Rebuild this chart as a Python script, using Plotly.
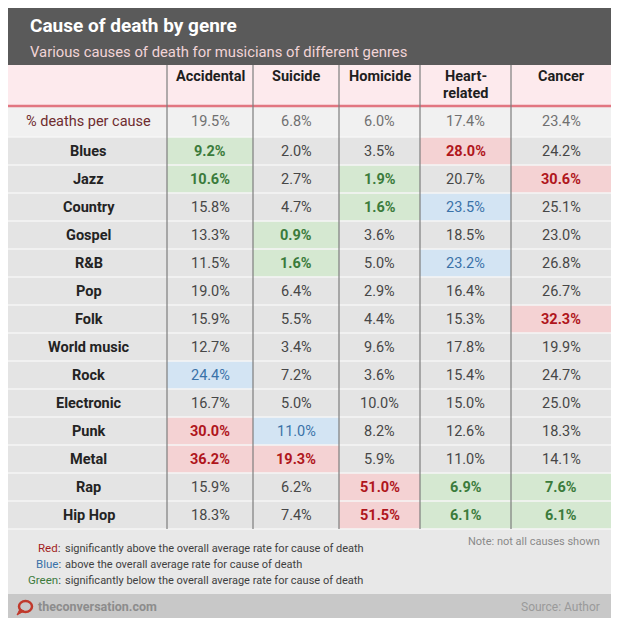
import plotly.graph_objects as go

# ---------------- data ----------------
causes = ["Accidental", "Suicide", "Homicide", "Heart-<br>related", "Cancer"]
overall = [19.5, 6.8, 6.0, 17.4, 23.4]
genres = ["Blues", "Jazz", "Country", "Gospel", "R&B", "Pop", "Folk", "World music",
          "Rock", "Electronic", "Punk", "Metal", "Rap", "Hip Hop"]
accidental = [9.2, 10.6, 15.8, 13.3, 11.5, 19.0, 15.9, 12.7, 24.4, 16.7, 30.0, 36.2, 15.9, 18.3]
suicide = [2.0, 2.7, 4.7, 0.9, 1.6, 6.4, 5.5, 3.4, 7.2, 5.0, 11.0, 19.3, 6.2, 7.4]
homicide = [3.5, 1.9, 1.6, 3.6, 5.0, 2.9, 4.4, 9.6, 3.6, 10.0, 8.2, 5.9, 51.0, 51.5]
heart = [28.0, 20.7, 23.5, 18.5, 23.2, 16.4, 15.3, 17.8, 15.4, 15.0, 12.6, 11.0, 6.9, 6.1]
cancer = [24.2, 30.6, 25.1, 23.0, 26.8, 26.7, 32.3, 19.9, 24.7, 25.0, 18.3, 14.1, 7.6, 6.1]
# R = significantly above, B = above, G = significantly below
accidental_flag = ["G", "G", "", "", "", "", "", "", "B", "", "R", "R", "", ""]
suicide_flag = ["", "", "", "G", "G", "", "", "", "", "", "B", "R", "", ""]
homicide_flag = ["", "G", "G", "", "", "", "", "", "", "", "", "", "R", "R"]
heart_flag = ["R", "", "B", "", "B", "", "", "", "", "", "", "", "G", "G"]
cancer_flag = ["", "R", "", "", "", "", "R", "", "", "", "", "", "G", "G"]

title = "Cause of death by genre"
subtitle = "Various causes of death for musicians of different genres"
legend_keys = ["Red", "Blue", "Green"]
legend_texts = ["significantly above the overall average rate for cause of death",
                "above the overall average rate for cause of death",
                "significantly below the overall average rate for cause of death"]
note = "Note: not all causes shown"
site = "theconversation.com"
source = "Source: Author"

# ---------------- layout / style ----------------
# page body has an 8px margin: the figure covers page pixels 8..612 x 8..620,
# and the axes are set so that data units equal page pixels.
PX0, PY0, FW, FH = 8, 8, 604, 612
FN = "Roboto, Liberation Sans, Arial, sans-serif"
col_edges = [8, 167, 253, 339, 420, 511, 611]
top_bar = (8, 65)
head = (65, 106)
avg_row = (106, 137)
row_h = 28
body_top = 137
body_bot = body_top + row_h * len(genres)
footer = (594, 618)
TS = 14.5  # table font size

C_NEUT = "#e4e4e4"
C_RED_BG, C_RED_TX = "#f4d2d3", "#b0161c"
C_BLU_BG, C_BLU_TX = "#d3e4f3", "#3a72a8"
C_GRN_BG, C_GRN_TX = "#d5e8d1", "#3b7b3b"
flag_code = {"": 0, "R": 1, "B": 2, "G": 3}
flag_txt = {"": ("#474747", False), "R": (C_RED_TX, True), "B": (C_BLU_TX, False), "G": (C_GRN_TX, True)}

values = [accidental, suicide, homicide, heart, cancer]
flags = [accidental_flag, suicide_flag, homicide_flag, heart_flag, cancer_flag]

fig = go.Figure()

# cell backgrounds via heatmap (x/y given as brick edges)
row_edges = [body_top + i * row_h for i in range(len(genres) + 1)]
z = [[flag_code[flags[c][r]] for c in range(len(causes))] for r in range(len(genres))]
fig.add_trace(go.Heatmap(
    x=col_edges[1:], y=row_edges, z=z, zmin=0, zmax=3,
    colorscale=[[0, C_NEUT], [0.1667, C_NEUT], [0.1667, C_RED_BG], [0.5, C_RED_BG],
                [0.5, C_BLU_BG], [0.8333, C_BLU_BG], [0.8333, C_GRN_BG], [1, C_GRN_BG]],
    showscale=False, hoverinfo="skip"))

shapes = []
def rect(x0, y0, x1, y1, color, layer="below"):
    shapes.append(dict(type="rect", x0=x0, y0=y0, x1=x1, y1=y1, fillcolor=color,
                       line=dict(width=0), layer=layer))
def line(x0, y0, x1, y1, color, w, layer="above"):
    shapes.append(dict(type="line", x0=x0, y0=y0, x1=x1, y1=y1,
                       line=dict(color=color, width=w), layer=layer))

L, R = col_edges[0], col_edges[-1]
rect(L, top_bar[0], R, top_bar[1], "#5a5a5a")
rect(L, head[0], R, head[1], "#fdeaed")
rect(L, avg_row[0], R, avg_row[1], "#f1f1f1")
rect(L, body_top, col_edges[1], body_bot, C_NEUT)
rect(L, body_bot, R, footer[0], "#e8e8e8")
rect(L, footer[0], R, footer[1], "#c8c8c8")

# row separators
for i in range(len(genres) + 1):
    y = body_top + i * row_h
    line(L, y, R, y, "#f6f6f6", 1.5)
line(L, avg_row[0], R, avg_row[0], "#e27681", 2.5)
# column separators
for x in col_edges[1:-1]:
    line(x, head[0], x, body_bot, "#7d7d7d", 1.2)

# footer icon (speech bubble)
shapes.append(dict(type="circle", x0=19, y0=601, x1=32, y1=612,
                   line=dict(color="#c0392b", width=2.5), layer="above"))
shapes.append(dict(type="path", path="M 20 609 L 17 615 L 24 611 Z",
                   fillcolor="#c0392b", line=dict(color="#c0392b", width=1), layer="above"))

ann = []
def text(x, y, s, size, color, bold=False, anchor="center", yanchor="middle"):
    ann.append(dict(x=x, y=y, text=f"<b>{s}</b>" if bold else s, showarrow=False,
                    xanchor=anchor, yanchor=yanchor,
                    font=dict(family=FN, size=size, color=color)))

text(28, 25, title, 19, "#ffffff", bold=True, anchor="left")
text(28, 52, subtitle, 14.8, "#f2d4d7", anchor="left")

label_x = (col_edges[0] + col_edges[1]) / 2 + 1
centers = [(col_edges[i] + col_edges[i + 1]) / 2 for i in range(1, len(col_edges) - 1)]
for cx, name in zip(centers, causes):
    for k, part in enumerate(name.split("<br>")):
        text(cx, 76 + 17 * k, part, TS, "#1e1e1e", bold=True)

cy_avg = (avg_row[0] + avg_row[1]) / 2
text(label_x, cy_avg, "% deaths per cause", TS, "#6e2c2f")
for cx, v in zip(centers, overall):
    text(cx, cy_avg, f"{v:.1f}%", TS, "#707070")

for r, g in enumerate(genres):
    cy = body_top + r * row_h + row_h / 2
    text(label_x, cy, g, TS, "#232323", bold=True)
    for c, cx in enumerate(centers):
        col, b = flag_txt[flags[c][r]]
        text(cx, cy, f"{values[c][r]:.1f}%", TS, col, bold=b)

key_cols = ["#a31d22", "#3a72a8", "#3c7b3c"]
for i, (k, t, kc) in enumerate(zip(legend_keys, legend_texts, key_cols)):
    y = 548 + i * 16
    text(63, y, f"<span style='color:{kc}'>{k}</span>:", 11.5, "#444444", anchor="right")
    text(63, y, t, 11, "#3f3f3f", anchor="left")
text(602, 541, note, 11, "#8a8a8a", anchor="right")
text(36, 606.5, site, 12.5, "#8c8c8c", bold=True, anchor="left")
text(602, 606.5, source, 12, "#9a9a9a", anchor="right")

fig.update_layout(
    width=FW, height=FH, margin=dict(l=0, r=0, t=0, b=0),
    paper_bgcolor="#ffffff", plot_bgcolor="#ffffff",
    xaxis=dict(range=[PX0, PX0 + FW], visible=False, fixedrange=True),
    yaxis=dict(range=[PY0 + FH, PY0], visible=False, fixedrange=True),
    shapes=shapes, annotations=ann, showlegend=False,
)
fig.write_html("out.html", config={"displayModeBar": False})
